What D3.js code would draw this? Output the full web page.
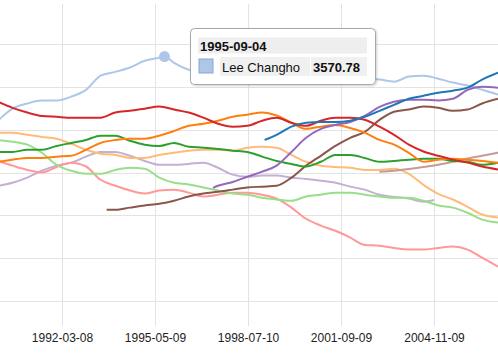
<!DOCTYPE html>
<html>
<head>
<meta charset="utf-8">
<script src="https://cdn.jsdelivr.net/npm/d3@7"></script>
<style>
  html, body { margin: 0; padding: 0; background: #fff; }
  svg { display: block; font-family: Arial, "Liberation Sans", sans-serif; }
</style>
</head>
<body>
<svg id="chart" width="498" height="353"></svg>
<script>
// ---------- DATA ----------
const dates = [
  "1990-01-01","1990-07-01","1991-01-01","1991-07-01","1992-01-01","1992-07-01",
  "1993-01-01","1993-07-01","1993-09-15","1994-01-01","1994-07-01","1995-01-01",
  "1995-07-01","1995-09-04","1996-01-01","1996-07-01","1997-01-01","1997-05-01",
  "1997-07-01","1998-01-01","1998-07-01","1999-01-01","1999-02-01","1999-07-01",
  "2000-01-01","2000-07-01","2001-01-01","2001-07-01","2002-01-01","2002-07-01",
  "2003-01-01","2003-07-01","2004-01-01","2004-07-01","2004-11-09","2005-01-01",
  "2005-07-01","2006-01-01","2006-07-01","2007-01-15"
];

const seriesNames = [
  "Lee Sedol","Lee Changho","Yoda Norimoto","Ma Xiaochun","Cho Chikun","Kobayashi Koichi",
  "Cho Hunhyun","Takemiya Masaki","Gu Li","Rin Kaiho","Chang Hao","Kong Jie"
];
const seriesColors = [
  "#1f77b4","#aec7e8","#ff7f0e","#ffbb78","#2ca02c","#98df8a",
  "#d62728","#ff9896","#9467bd","#c5b0d5","#8c564b","#c49c94"
];

const leeSedol = [
  null,null,null,null,null,null,null,null,null,null,null,null,
  null,null,null,null,null,null,null,null,null,null,3376,3388,
  3407,3416,3418,3418,3421,3430,3444,3458,3472,3479,null,3486,
  3491,3498,3517,3533
];
const leeChangho = [
  3421,3449,3461,3468,3468,3477,3493,3526,null,3535,3545,3561,
  3568,3570.78,3556,3540,3533,null,3528,3526,3524,3526,null,3521,
  3524,3521,3524,3521,3521,3519,3517,3512,3524,3526,null,3519,
  3510,3503,3493,3482
];
const yodaNorimoto = [
  3325,3330,3334,3334,3337,3339,3353,3369,null,3376,3379,3379,
  3386,null,3397,3409,3414,null,3421,3430,3435,3440,null,3433,
  3416,3402,3407,3411,3404,3393,3376,3365,3346,3325,null,3330,
  3332,3330,3327,3323
];
const maXiaochun = [
  3393,3393,3388,3383,3379,3367,3353,3344,null,3341,3334,3334,
  3341,null,3346,3351,3353,null,3353,3351,3358,3360,null,3358,
  3341,3325,3316,3313,3311,3306,3306,3309,3297,3271,null,3250,
  3237,3220,3202,3195
];
const choChikun = [
  3348,3348,3353,3353,3362,3369,3376,3386,null,3386,3374,3365,
  3362,null,3369,3360,3358,null,3355,3351,3348,3337,null,3327,
  3320,3314,3325,3341,3341,3334,3325,3327,3330,3332,null,3332,
  3327,3325,3318,3323
];
const kobayashiKoichi = [
  3376,3372,3365,3346,3318,3304,3297,3297,null,3306,3311,3309,
  3288,null,3276,3272,3265,null,3258,3251,3248,3241,null,3237,
  3234,3244,3248,3253,3253,3248,3244,3241,3241,3234,null,3223,
  3218,3206,3190,3183
];
const choHunhyun = [
  3465,3451,3440,3432,3430,3428,3428,3428,null,3440,3444,3449,
  3454,null,3447,3440,3428,null,3414,3407,3409,3421,null,3428,
  3416,3409,3421,3428,3428,3423,3407,3388,3365,3349,null,3339,
  3330,3323,3314,3307
];
const takemiyaMasaki = [
  3327,3316,3306,3300,3313,3323,3314,3283,null,3269,3258,3251,
  3258,null,3260,3253,3244,null,3248,3253,3253,3248,null,3239,
  3218,3192,3176,3164,3148,3131,3129,3124,3120,3120,null,3124,
  3127,3120,3101,3080
];
const guLi = [
  null,null,null,null,null,null,null,null,null,null,null,null,
  null,null,null,null,null,3264,3269,3278,3290,3302,null,3316,
  3348,3381,3402,3411,3418,3432,3453,3465,3470,3470,null,3468,
  3472,3493,3500,3498
];
const rinKaiho = [
  3269,3276,3288,3304,3316,3323,3337,3348,null,3348,3339,3327,
  3318,null,3318,3320,3323,null,3311,3295,3290,3293,null,3293,
  3288,3285,3281,3276,3267,3260,3248,3243,3239,3232,3236,null,
  null,null,null,null
];
const changHao = [
  null,null,null,null,null,null,null,null,3213,3213,3218,3223,
  3227,null,3234,3244,3251,null,3255,3260,3265,3267,null,3269,
  3288,3316,3339,3362,3381,3395,3423,3442,3447,3454,null,3451,
  3444,3447,3461,3472
];
const kongJie = [
  null,null,null,null,null,null,null,null,null,null,null,null,
  null,null,null,null,null,null,null,null,null,null,null,null,
  null,null,null,null,null,null,3302,3304,3308,3313,null,3318,
  3325,3333,3339,3346
];

const seriesValues = [
  leeSedol, leeChangho, yodaNorimoto, maXiaochun, choChikun, kobayashiKoichi,
  choHunhyun, takemiyaMasaki, guLi, rinKaiho, changHao, kongJie
];

const xTickLabels = ["1992-03-08","1995-05-09","1998-07-10","2001-09-09","2004-11-09"];
const yGridValues = [3000,3100,3200,3300,3400,3500,3600];

const tooltipDate = "1995-09-04";
const tooltipSeries = "Lee Changho";
const tooltipValue = 3570.78;

// ---------- CHART ----------
const parse = d3.timeParse("%Y-%m-%d");
const svg = d3.select("#chart");
const W = 498, H = 353;
const plotTop = 4, plotBottom = 326;

const x = d3.scaleTime()
  .domain([parse(xTickLabels[0]), parse(xTickLabels[xTickLabels.length - 1])])
  .range([62, 434]);
const y = d3.scaleLinear().domain([3000, 3600]).range([301, 44]);

// horizontal gridlines
svg.append("g")
  .selectAll("line")
  .data(yGridValues)
  .join("line")
  .attr("x1", 0).attr("x2", W)
  .attr("y1", d => Math.round(y(d)) + 0.5)
  .attr("y2", d => Math.round(y(d)) + 0.5)
  .attr("stroke", "#e3e3e3")
  .attr("stroke-width", 1);

// x axis with vertical gridlines
const xAxis = d3.axisBottom(x)
  .tickValues(xTickLabels.map(parse))
  .tickFormat(d3.timeFormat("%Y-%m-%d"))
  .tickSize(-(plotBottom - plotTop))
  .tickPadding(7);

const gx = svg.append("g")
  .attr("transform", `translate(0,${plotBottom})`)
  .call(xAxis);
gx.select(".domain").remove();
gx.selectAll(".tick line").attr("stroke", "#e3e3e3");
gx.selectAll(".tick text")
  .attr("fill", "#222")
  .style("font-size", "12px")
  .style("font-family", "Arial, 'Liberation Sans', sans-serif");

// lines
const line = d3.line()
  .x(d => x(d.date))
  .y(d => y(d.value))
  .curve(d3.curveMonotoneX);

const series = seriesNames.map((name, i) => ({
  name,
  color: seriesColors[i],
  points: dates.map((dt, j) => ({ date: parse(dt), value: seriesValues[i][j] }))
                .filter(p => p.value !== null)
}));

const drawOrder = [9, 7, 5, 3, 1, 11, 10, 4, 2, 6, 8, 0];
svg.append("g")
  .selectAll("path")
  .data(drawOrder.map(i => series[i]))
  .join("path")
  .attr("d", d => line(d.points))
  .attr("fill", "none")
  .attr("stroke", d => d.color)
  .attr("stroke-width", 2)
  .attr("stroke-linejoin", "round");

// highlighted point
const hiIdx = seriesNames.indexOf(tooltipSeries);
svg.append("circle")
  .attr("cx", x(parse(tooltipDate)))
  .attr("cy", y(tooltipValue))
  .attr("r", 5.5)
  .attr("fill", seriesColors[hiIdx]);

// tooltip
const defs = svg.append("defs");
const f = defs.append("filter").attr("id", "shadow")
  .attr("x", "-10%").attr("y", "-10%").attr("width", "130%").attr("height", "140%");
f.append("feDropShadow").attr("dx", 1).attr("dy", 1).attr("stdDeviation", 1.2)
  .attr("flood-color", "#000").attr("flood-opacity", 0.18);

const tt = svg.append("g").attr("transform", "translate(190.5,28.5)");
tt.append("rect")
  .attr("width", 185).attr("height", 56).attr("rx", 4)
  .attr("fill", "#fff").attr("stroke", "#a8a8a8").attr("stroke-width", 1)
  .attr("filter", "url(#shadow)");
tt.append("rect").attr("x", 7.5).attr("y", 9).attr("width", 169).attr("height", 16)
  .attr("fill", "#eeeeee");
tt.append("text").attr("x", 9.5).attr("y", 22)
  .style("font-size", "13px").style("font-weight", "bold").attr("fill", "#111")
  .text(tooltipDate);
tt.append("rect").attr("x", 8.5).attr("y", 30.5).attr("width", 14).attr("height", 14)
  .attr("fill", seriesColors[hiIdx]).attr("stroke", "#8aa5c8").attr("stroke-width", 1);
tt.append("rect").attr("x", 29.5).attr("y", 28.5).attr("width", 90).attr("height", 19)
  .attr("fill", "#f0f0f0");
tt.append("rect").attr("x", 120.5).attr("y", 28.5).attr("width", 56).attr("height", 19)
  .attr("fill", "#f0f0f0");
tt.append("text").attr("x", 31.5).attr("y", 43)
  .style("font-size", "13px").attr("fill", "#111")
  .text(tooltipSeries);
tt.append("text").attr("x", 122.5).attr("y", 43)
  .style("font-size", "13px").style("font-weight", "bold").attr("fill", "#111")
  .text(d3.format(".2f")(tooltipValue));
</script>
</body>
</html>
